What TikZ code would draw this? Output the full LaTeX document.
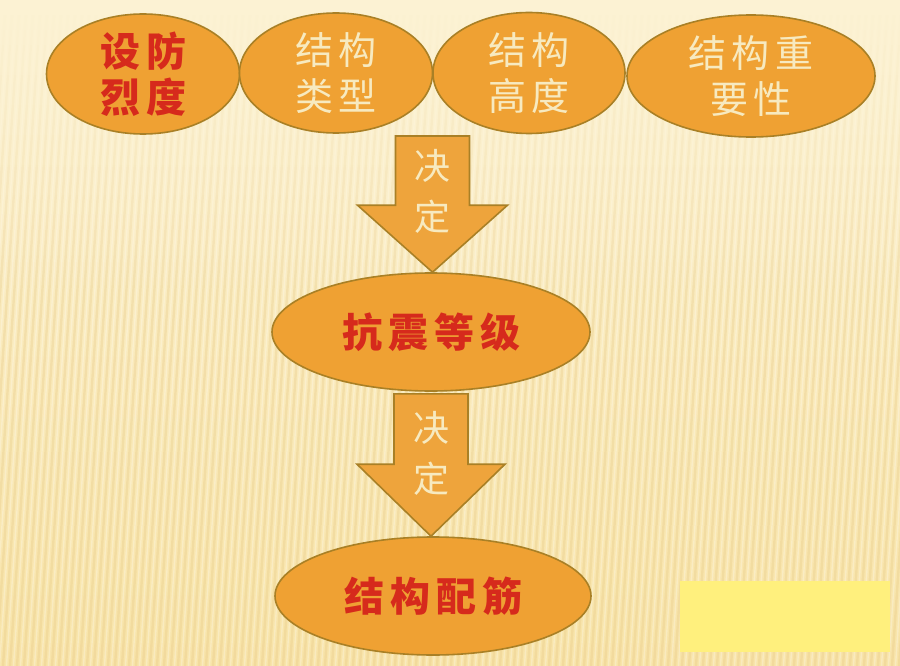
\documentclass[tikz,border=0pt]{standalone}
\usepackage{fontspec}
\usepackage{xcolor}
\usepackage{tikz}
\usetikzlibrary{shapes.geometric,calc}
\newfontfamily\cjk[LetterSpace=15]{Noto Sans CJK SC}
\newfontfamily\cjkv{Noto Sans CJK SC}
\definecolor{paper}{HTML}{FCF2D3}
\definecolor{paperdeep}{HTML}{F8E4A9}
\definecolor{stripe}{HTML}{E6C782}
\definecolor{fillorange}{HTML}{EFA133}
\definecolor{arrowfill}{HTML}{EEA43C}
\definecolor{rim}{HTML}{A98026}
\definecolor{redtext}{HTML}{D62A1C}
\definecolor{paletext}{HTML}{F7EAC0}
\definecolor{memo}{HTML}{FFF07D}

\begin{document}
\begin{tikzpicture}[x=1pt,y=-1pt,
    factor/.style={ellipse,draw=rim,line width=1.6pt,fill=fillorange,inner sep=0pt,
        align=center,text=paletext,font=\cjk\fontsize{38}{46}\selectfont},
    keyfactor/.style={factor,text=redtext,font=\cjk\bfseries\fontsize{40}{46}\selectfont},
    flow/.style={draw=rim,line width=1.6pt,fill=arrowfill,line join=miter},
    decide/.style={align=center,text=paletext,inner sep=0pt,font=\cjkv\fontsize{36}{51}\selectfont},
    notebox/.style={fill=memo,inner sep=0pt,minimum width=210pt,minimum height=71pt}]

        \useasboundingbox (0,0) rectangle (900,666);
        \shade[top color=paper,bottom color=paperdeep] (0,0) rectangle (900,666);
        \begin{scope}
            \clip (0,0) rectangle (900,666);
            \foreach \i in {-60,-53,...,900} {
                \draw[stripe,opacity=.32,line width=2.4pt] (\i,666) -- (\i+45,0);
                \draw[white,opacity=.25,line width=1.4pt] (\i+3.5,666) -- (\i+48.5,0);
            }
            \foreach \k in {0,...,19}
                \fill[paper,opacity={1-\k/20}] (0,\k*15) rectangle (900,\k*15+15);
        \end{scope}

        \node[keyfactor,minimum width=193pt,minimum height=120pt] (intensity) at (143,74) {设防\\烈度};
        \node[factor,minimum width=193pt,minimum height=120pt] (systype) at (336,73) {结构\\类型};
        \node[factor,minimum width=192pt,minimum height=121pt] (height) at (529,73) {结构\\高度};
        \node[factor,minimum width=248pt,minimum height=122pt] (importance) at (751,76) {结构重\\要性};

        \node[keyfactor,minimum width=318pt,minimum height=118pt] (grade) at (431,332) {抗震等级};
        \node[keyfactor,minimum width=316pt,minimum height=118pt] (rebar) at (433,596) {结构配筋};

        \coordinate (s1) at ($(systype.south)!0.5!(height.south)+(0,2)$);
        \coordinate (t1) at (s1 |- grade.north);
        \coordinate (s2) at ($(grade.south)+(0,2)$);
        \coordinate (t2) at (s2 |- rebar.north);

        \draw[flow] ($(s1)+(-37,0)$) -- ($(s1)+(37,0)$) -- ($(t1)+(37,-67)$) -- ($(t1)+(75,-67)$)
            -- (t1) -- ($(t1)+(-75,-67)$) -- ($(t1)+(-37,-67)$) -- cycle;
        \draw[flow] ($(s2)+(-37,0)$) -- ($(s2)+(37,0)$) -- ($(t2)+(37,-72)$) -- ($(t2)+(74,-72)$)
            -- (t2) -- ($(t2)+(-74,-72)$) -- ($(t2)+(-37,-72)$) -- cycle;

        \node[decide] (decide1) at ($(s1)!0.41!(t1)$) {决\\定};
        \node[decide] (decide2) at ($(s2)!0.42!(t2)$) {决\\定};

        \node[notebox] (memo) at (785,616.5) {};
    \end{tikzpicture}
\end{document}
